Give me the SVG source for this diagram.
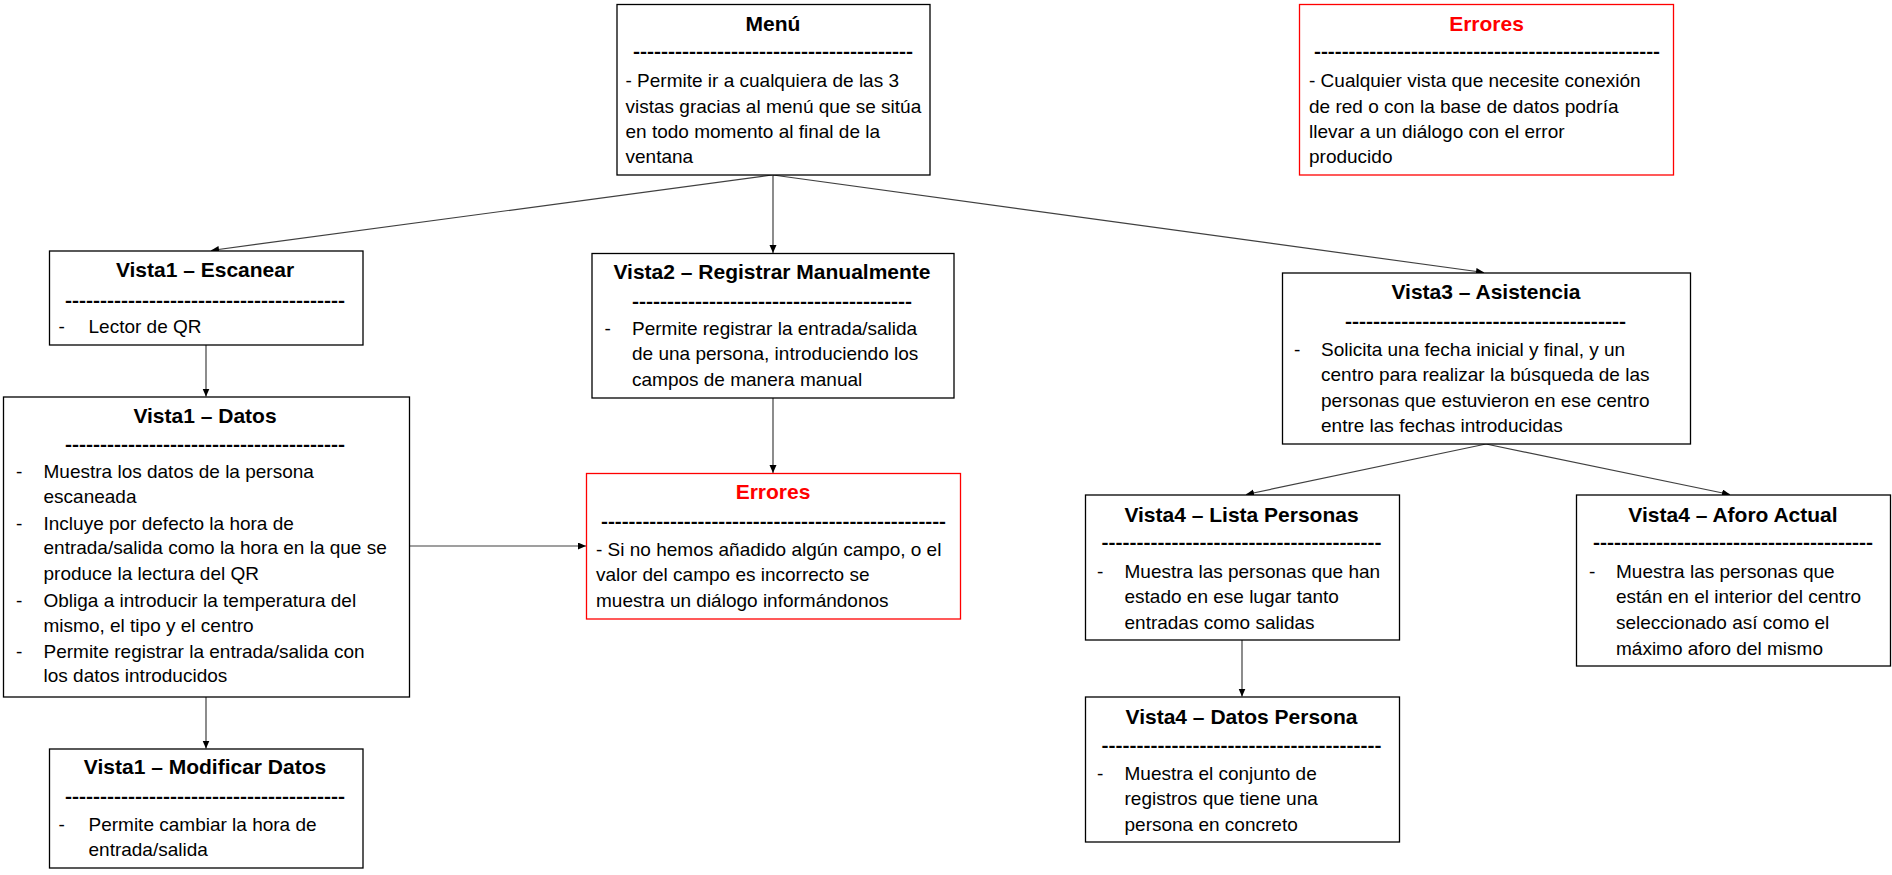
<svg xmlns="http://www.w3.org/2000/svg" width="1892" height="875" viewBox="0 0 1892 875">
<style>
.box{fill:#fff;stroke:#000;stroke-width:1.3}
.err{fill:#fff;stroke:#ff0000;stroke-width:1.3}
.t{font-family:"Liberation Sans",Arial,sans-serif;font-size:21px;font-weight:bold;text-anchor:middle;fill:#000}
.tr{fill:#ff0000}
.d{font-family:"Liberation Sans",Arial,sans-serif;font-size:19px;font-weight:bold;text-anchor:middle;fill:#000}
.b{font-family:"Liberation Sans",Arial,sans-serif;font-size:19px;fill:#000}
.c{fill:none;stroke:#404040;stroke-width:1.2;marker-end:url(#ah)}
</style>
<defs>
<marker id="ah" markerUnits="userSpaceOnUse" markerWidth="9" markerHeight="8" refX="8" refY="3.5" orient="auto">
<path d="M0,0 L8,3.5 L0,7 z" fill="#000"/>
</marker>
</defs>
<rect width="1892" height="875" fill="#fff"/>
<g id="connectors">
<line class="c" x1="772" y1="175" x2="211" y2="250.5"/>
<line class="c" x1="773" y1="175" x2="773" y2="253"/>
<line class="c" x1="773" y1="175" x2="1484" y2="272.5"/>
<line class="c" x1="206" y1="345" x2="206" y2="396.5"/>
<line class="c" x1="773" y1="398" x2="773" y2="473"/>
<line class="c" x1="410" y1="546" x2="586" y2="546"/>
<line class="c" x1="206" y1="697" x2="206" y2="748.5"/>
<line class="c" x1="1486" y1="444" x2="1246" y2="494.5"/>
<line class="c" x1="1486" y1="444" x2="1730" y2="494.5"/>
<line class="c" x1="1242" y1="640" x2="1242" y2="696.5"/>
</g>
<g id="menu">
<rect class="box" x="617" y="4.5" width="313" height="170.5"/>
<text class="t" x="773" y="31">Menú</text>
<text class="d" x="773" y="58" textLength="280" lengthAdjust="spacingAndGlyphs">----------------------------------------</text>
<text class="b" x="625.5" y="87">- Permite ir a cualquiera de las 3</text>
<text class="b" x="625.5" y="113">vistas gracias al menú que se sitúa</text>
<text class="b" x="625.5" y="138">en todo momento al final de la</text>
<text class="b" x="625.5" y="163">ventana</text>
</g>
<g id="errores1">
<rect class="err" x="1299.5" y="4.5" width="374" height="170.5"/>
<text class="t tr" x="1486.5" y="31">Errores</text>
<text class="d" x="1487" y="58" textLength="346" lengthAdjust="spacingAndGlyphs">--------------------------------------------------</text>
<text class="b" x="1309" y="87">- Cualquier vista que necesite conexión</text>
<text class="b" x="1309" y="113">de red o con la base de datos podría</text>
<text class="b" x="1309" y="138">llevar a un diálogo con el error</text>
<text class="b" x="1309" y="163">producido</text>
</g>
<g id="vista1-escanear">
<rect class="box" x="49.5" y="251" width="313.5" height="94"/>
<text class="t" x="205" y="277">Vista1 – Escanear</text>
<text class="d" x="205" y="307" textLength="280" lengthAdjust="spacingAndGlyphs">----------------------------------------</text>
<text class="b" x="58.5" y="333">-</text>
<text class="b" x="88.5" y="333">Lector de QR</text>
</g>
<g id="vista2-registrar">
<rect class="box" x="592" y="253.5" width="362" height="144.5"/>
<text class="t" x="772" y="279">Vista2 – Registrar Manualmente</text>
<text class="d" x="772" y="308" textLength="280" lengthAdjust="spacingAndGlyphs">----------------------------------------</text>
<text class="b" x="604.5" y="335">-</text>
<text class="b" x="632" y="335">Permite registrar la entrada/salida</text>
<text class="b" x="632" y="360">de una persona, introduciendo los</text>
<text class="b" x="632" y="386">campos de manera manual</text>
</g>
<g id="vista1-datos">
<rect class="box" x="3.5" y="397" width="406" height="300"/>
<text class="t" x="205" y="423">Vista1 – Datos</text>
<text class="d" x="205" y="451" textLength="280" lengthAdjust="spacingAndGlyphs">----------------------------------------</text>
<text class="b" x="16" y="478">-</text>
<text class="b" x="43.5" y="478">Muestra los datos de la persona</text>
<text class="b" x="43.5" y="503">escaneada</text>
<text class="b" x="16" y="530">-</text>
<text class="b" x="43.5" y="530">Incluye por defecto  la hora de</text>
<text class="b" x="43.5" y="554">entrada/salida como la hora en la que se</text>
<text class="b" x="43.5" y="580">produce la lectura del QR</text>
<text class="b" x="16" y="607">-</text>
<text class="b" x="43.5" y="607">Obliga a introducir la temperatura del</text>
<text class="b" x="43.5" y="632">mismo, el tipo y el centro</text>
<text class="b" x="16" y="658">-</text>
<text class="b" x="43.5" y="658">Permite registrar la entrada/salida con</text>
<text class="b" x="43.5" y="682">los datos introducidos</text>
</g>
<g id="errores2">
<rect class="err" x="586.5" y="473.5" width="374" height="145.5"/>
<text class="t tr" x="773" y="499">Errores</text>
<text class="d" x="773.5" y="528" textLength="345" lengthAdjust="spacingAndGlyphs">--------------------------------------------------</text>
<text class="b" x="596" y="556">- Si no hemos añadido algún campo, o el</text>
<text class="b" x="596" y="581">valor del campo es incorrecto se</text>
<text class="b" x="596" y="607">muestra un diálogo informándonos</text>
</g>
<g id="vista1-modificar">
<rect class="box" x="49.5" y="749" width="313.5" height="119"/>
<text class="t" x="205" y="774">Vista1 – Modificar Datos</text>
<text class="d" x="205" y="803" textLength="280" lengthAdjust="spacingAndGlyphs">----------------------------------------</text>
<text class="b" x="58.5" y="831">-</text>
<text class="b" x="88.5" y="831">Permite cambiar la hora de</text>
<text class="b" x="88.5" y="856">entrada/salida</text>
</g>
<g id="vista3-asistencia">
<rect class="box" x="1282.5" y="273" width="408" height="171"/>
<text class="t" x="1486" y="299">Vista3 – Asistencia</text>
<text class="d" x="1485.5" y="328" textLength="281" lengthAdjust="spacingAndGlyphs">----------------------------------------</text>
<text class="b" x="1294" y="356">-</text>
<text class="b" x="1321" y="356">Solicita una fecha inicial y final, y un</text>
<text class="b" x="1321" y="381">centro para realizar la búsqueda de las</text>
<text class="b" x="1321" y="407">personas que estuvieron en ese centro</text>
<text class="b" x="1321" y="432">entre las fechas introducidas</text>
</g>
<g id="vista4-lista">
<rect class="box" x="1085.5" y="495" width="314" height="145"/>
<text class="t" x="1241.5" y="522">Vista4 – Lista Personas</text>
<text class="d" x="1241.5" y="549" textLength="280" lengthAdjust="spacingAndGlyphs">----------------------------------------</text>
<text class="b" x="1097" y="578">-</text>
<text class="b" x="1124.5" y="578">Muestra las personas que han</text>
<text class="b" x="1124.5" y="603">estado en ese lugar tanto</text>
<text class="b" x="1124.5" y="629">entradas como salidas</text>
</g>
<g id="vista4-aforo">
<rect class="box" x="1576.5" y="495" width="314" height="171"/>
<text class="t" x="1733" y="522">Vista4 – Aforo Actual</text>
<text class="d" x="1733" y="549" textLength="280" lengthAdjust="spacingAndGlyphs">----------------------------------------</text>
<text class="b" x="1589" y="578">-</text>
<text class="b" x="1616" y="578">Muestra las personas que</text>
<text class="b" x="1616" y="603">están en el interior del centro</text>
<text class="b" x="1616" y="629">seleccionado así como el</text>
<text class="b" x="1616" y="655">máximo aforo del mismo</text>
</g>
<g id="vista4-datos-persona">
<rect class="box" x="1085.5" y="697" width="314" height="145"/>
<text class="t" x="1241.5" y="724">Vista4 – Datos Persona</text>
<text class="d" x="1241.5" y="752" textLength="280" lengthAdjust="spacingAndGlyphs">----------------------------------------</text>
<text class="b" x="1097" y="780">-</text>
<text class="b" x="1124.5" y="780">Muestra el conjunto de</text>
<text class="b" x="1124.5" y="805">registros que tiene una</text>
<text class="b" x="1124.5" y="831">persona en concreto</text>
</g>
</svg>
